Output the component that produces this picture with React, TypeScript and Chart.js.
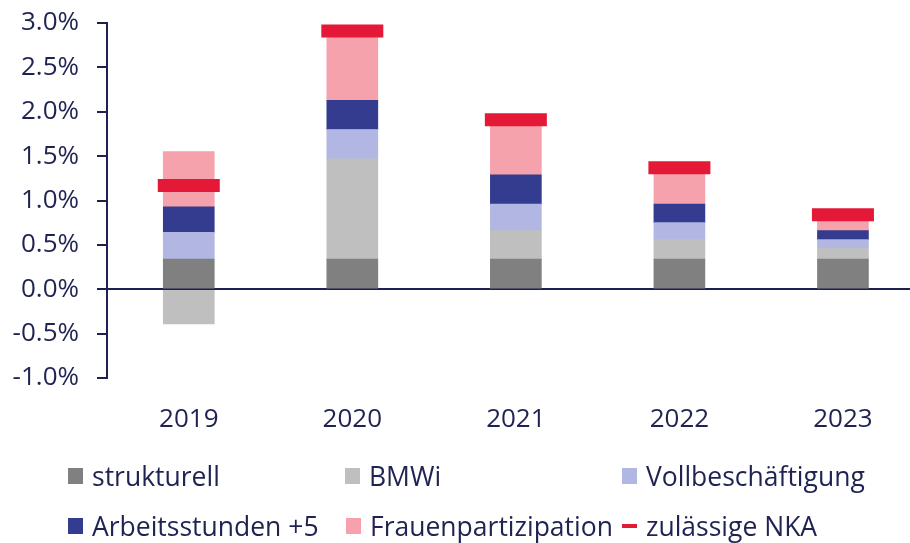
import React, { useEffect, useRef } from 'react';
import { Chart, registerables } from 'chart.js';

Chart.register(...registerables);

const years = ['2019', '2020', '2021', '2022', '2023'];
const strukturell = [0.34, 0.34, 0.34, 0.34, 0.34];
const bmwi = [-0.39, 1.13, 0.32, 0.22, 0.12];
const vollbeschaeftigung = [0.30, 0.33, 0.30, 0.19, 0.10];
const arbeitsstunden = [0.29, 0.33, 0.33, 0.21, 0.10];
const frauenpartizipation = [0.62, 0.72, 0.57, 0.36, 0.12];
const zulaessigeNKA = [1.17, 2.91, 1.91, 1.37, 0.84];
const yTicks = [-1, -0.5, 0, 0.5, 1, 1.5, 2, 2.5, 3];

const NAVY = '#1d2050';
const TEXT = '#1f2352';
const FONT = "'Open Sans', 'Noto Sans', sans-serif";

const C_STRUK = '#808080';
const C_BMWI = '#bfbfbf';
const C_VOLL = '#b1b6e3';
const C_ARB = '#333c8e';
const C_FRAU = '#f5a2ad';
const C_NKA = '#e31937';

const legendItems = [
  { label: 'strukturell', color: C_STRUK, left: 68, top: 461, kind: 'box' },
  { label: 'BMWi', color: C_BMWI, left: 345, top: 461, kind: 'box' },
  { label: 'Vollbeschäftigung', color: C_VOLL, left: 622, top: 461, kind: 'box' },
  { label: 'Arbeitsstunden +5', color: C_ARB, left: 68, top: 511, kind: 'box' },
  { label: 'Frauenpartizipation', color: C_FRAU, left: 346, top: 511, kind: 'box' },
  { label: 'zulässige NKA', color: C_NKA, left: 622, top: 511, kind: 'line' },
];

const pts = (arr: number[]) => arr.map((v, i) => ({ x: i, y: v }));

export default function App() {
  const ref = useRef<HTMLCanvasElement>(null);
  useEffect(() => {
    document.body.style.margin = '0';
    const barDs = (label: string, data: number[], color: string) => ({
      type: 'bar' as const,
      label,
      data: pts(data),
      backgroundColor: color,
      borderWidth: 0,
      barThickness: 51,
      order: 1,
    });
    const chart = new Chart(ref.current!, {
      type: 'bar',
      data: {
        datasets: [
          {
            type: 'line',
            label: 'zulässige NKA',
            data: pts(zulaessigeNKA),
            showLine: false,
            pointStyle: 'line',
            pointRadius: 31,
            pointHoverRadius: 31,
            pointBorderWidth: 13,
            pointHoverBorderWidth: 13,
            borderColor: C_NKA,
            pointBorderColor: C_NKA,
            backgroundColor: C_NKA,
            stack: 'nka',
            order: -1,
            clip: false,
          } as any,
          barDs('strukturell', strukturell, C_STRUK),
          barDs('BMWi', bmwi, C_BMWI),
          barDs('Vollbeschäftigung', vollbeschaeftigung, C_VOLL),
          barDs('Arbeitsstunden +5', arbeitsstunden, C_ARB),
          barDs('Frauenpartizipation', frauenpartizipation, C_FRAU),
        ],
      },
      options: {
        responsive: false,
        animation: false,
        layout: { autoPadding: false, padding: { top: 23, right: 0, bottom: 0, left: 0 } },
        plugins: { legend: { display: false }, tooltip: { enabled: false } },
        scales: {
          x: {
            type: 'linear',
            stacked: true,
            offset: false,
            min: -0.5,
            max: 4.41,
            grid: { display: false, drawTicks: false, offset: false },
            border: { display: false },
            afterBuildTicks: (scale: any) => {
              scale.ticks = years.map((_, i) => ({ value: i }));
            },
            afterFit: (scale: any) => {
              scale.height = 165;
              scale.paddingLeft = 0;
              scale.paddingRight = 0;
            },
            ticks: {
              autoSkip: false,
              maxRotation: 0,
              padding: 26,
              color: TEXT,
              font: { family: FONT, size: 26 },
              callback: (v: any) => years[v as number] ?? '',
            },
          },
          y: {
            type: 'linear',
            stacked: true,
            min: -1,
            max: 3,
            afterBuildTicks: (scale: any) => {
              scale.ticks = yTicks.map((v) => ({ value: v }));
            },
            afterFit: (scale: any) => {
              scale.width = 107;
              scale.paddingTop = 0;
              scale.paddingBottom = 0;
            },
            grid: {
              color: (ctx: any) => (ctx.tick && ctx.tick.value === 0 ? NAVY : 'rgba(0,0,0,0)'),
              lineWidth: 2,
              tickColor: NAVY,
              tickWidth: 2,
              tickLength: 10,
              drawTicks: true,
            },
            border: { display: true, color: NAVY, width: 2 },
            ticks: {
              padding: 18,
              color: TEXT,
              font: { family: FONT, size: 26 },
              callback: (v: any) => Number(v).toFixed(1) + '%',
            },
          },
        },
      },
    });
    return () => chart.destroy();
  }, []);

  return (
    <div style={{ position: 'relative', width: 910, height: 543, fontFamily: FONT }}>
      <canvas ref={ref} width={910} height={543} style={{ display: 'block' }} />
      {legendItems.map((it) => (
        <div
          key={it.label}
          style={{
            position: 'absolute',
            left: it.left,
            top: it.top,
            height: 30,
            lineHeight: '30px',
            display: 'flex',
            alignItems: 'center',
            fontSize: 26.5,
            color: TEXT,
            whiteSpace: 'nowrap',
          }}
        >
          <span
            style={{
              display: 'inline-block',
              width: 15,
              height: it.kind === 'box' ? 16 : 4,
              background: it.color,
              marginRight: 9,
            }}
          />
          <span>{it.label}</span>
        </div>
      ))}
    </div>
  );
}
